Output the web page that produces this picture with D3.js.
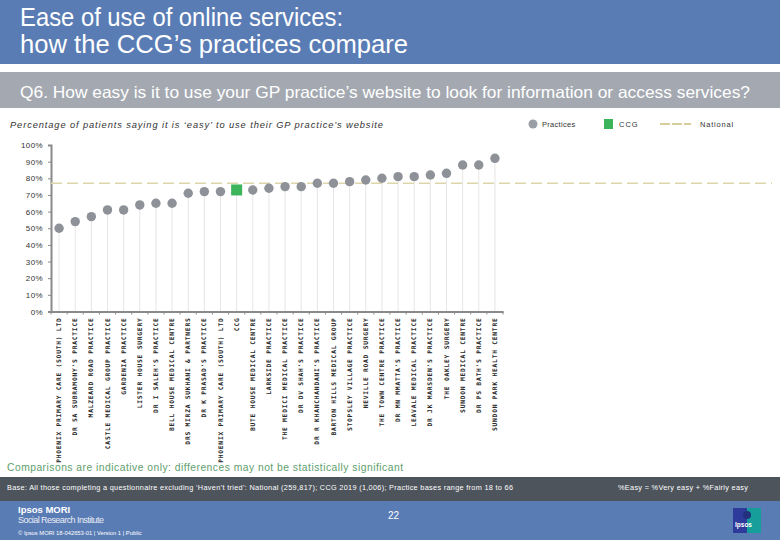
<!DOCTYPE html>
<html><head><meta charset="utf-8">
<script src="https://cdn.jsdelivr.net/npm/d3@7"></script>
<style>body{margin:0;background:#fff}svg{display:block;font-family:"Liberation Sans",Arial,sans-serif}</style>
</head><body><svg id="c" width="780" height="540"></svg>
<script>
const categories = ["PHOENIX PRIMARY CARE (SOUTH) LTD","DR SA SUBRAMONY'S PRACTICE","MALZEARD ROAD PRACTICE","CASTLE MEDICAL GROUP PRACTICE","GARDENIA PRACTICE","LISTER HOUSE SURGERY","DR I SALEH'S PRACTICE","BELL HOUSE MEDICAL CENTRE","DRS MIRZA SUKHANI & PARTNERS","DR K PRASAD'S PRACTICE","PHOENIX PRIMARY CARE (SOUTH) LTD","CCG","BUTE HOUSE MEDICAL CENTRE","LARKSIDE PRACTICE","THE MEDICI MEDICAL PRACTICE","DR DV SHAH'S PRACTICE","DR R KHANCHANDANI'S PRACTICE","BARTON HILLS MEDICAL GROUP","STOPSLEY VILLAGE PRACTICE","NEVILLE ROAD SURGERY","THE TOWN CENTRE PRACTICE","DR MN MMATTA'S PRACTICE","LEAVALE MEDICAL PRACTICE","DR JK MARSDEN'S PRACTICE","THE OAKLEY SURGERY","SUNDON MEDICAL CENTRE","DR PS BATH'S PRACTICE","SUNDON PARK HEALTH CENTRE"];
const values = [50,54,57,61,61,64,65,65,71,72,72,73,73,74,75,75,77,77,78,79,80,81,81,82,83,88,88,92];
const isCCG = categories.map(c => c === "CCG");
const nationalValue = 77;
const yTicks = [0,10,20,30,40,50,60,70,80,90,100];

const svg = d3.select("#c");
const blue = "#5a7cb5";

// header
svg.append("rect").attr("x",0).attr("y",0).attr("width",780).attr("height",64).attr("fill",blue);
svg.append("text").attr("x",20).attr("y",26).attr("fill","#fff").attr("font-size",25.5).attr("textLength",323).attr("lengthAdjust","spacingAndGlyphs").text("Ease of use of online services:");
svg.append("text").attr("x",20).attr("y",53).attr("fill","#fff").attr("font-size",25.5).attr("textLength",388).attr("lengthAdjust","spacingAndGlyphs").text("how the CCG\u2019s practices compare");
svg.append("rect").attr("x",0).attr("y",72).attr("width",780).attr("height",36).attr("fill","#a4a9b1");
svg.append("text").attr("x",20).attr("y",98).attr("fill","#fff").attr("font-size",16.5).attr("textLength",730).attr("lengthAdjust","spacingAndGlyphs").text("Q6. How easy is it to use your GP practice\u2019s website to look for information or access services?");

svg.append("text").attr("x",10).attr("y",128).attr("fill","#333").attr("font-size",9.3).attr("font-style","italic").attr("textLength",373).text("Percentage of patients saying it is \u2018easy\u2019 to use their GP practice\u2019s website");

// legend
const lg = svg.append("g").attr("font-size",7.5).attr("fill","#333");
lg.append("circle").attr("cx",533).attr("cy",124).attr("r",4.5).attr("fill","#9a9ea5");
lg.append("text").attr("x",542).attr("y",127).attr("letter-spacing",0.3).text("Practices");
lg.append("rect").attr("x",604).attr("y",119).attr("width",9).attr("height",10).attr("fill","#3cb45a");
lg.append("text").attr("x",619).attr("y",127).attr("letter-spacing",1).text("CCG");
lg.append("line").attr("x1",660).attr("x2",691).attr("y1",124).attr("y2",124).attr("stroke","#d6cf9c").attr("stroke-width",2).attr("stroke-dasharray","10,2");
lg.append("text").attr("x",700).attr("y",127).attr("letter-spacing",0.8).text("National");

// scales
const x = d3.scaleBand().domain(d3.range(categories.length)).range([51, 503]).paddingInner(0).paddingOuter(0);
const y = d3.scaleLinear().domain([0,100]).range([311.5,145]);

// y axis
const ya = svg.append("g").attr("transform","translate(51,0)")
  .call(d3.axisLeft(y).tickValues(yTicks).tickFormat(d => d + "%").tickSize(3));
ya.select(".domain").attr("stroke","#8a8a8a").attr("stroke-width",2);
ya.selectAll(".tick line").attr("stroke","#8a8a8a");
ya.selectAll(".tick text").attr("font-size",8).attr("fill","#333").attr("font-family","Liberation Sans, Arial").attr("letter-spacing",0.4).attr("x",-8);

// stems
svg.append("g").selectAll("line").data(values).join("line")
  .attr("x1",(d,i)=>x(i)+x.bandwidth()/2).attr("x2",(d,i)=>x(i)+x.bandwidth()/2)
  .attr("y1",d=>y(d)).attr("y2",y(0))
  .attr("stroke","#e6e6e6").attr("stroke-width",1);

// national line
svg.append("line").attr("x1",51).attr("x2",772).attr("y1",y(nationalValue)).attr("y2",y(nationalValue))
  .attr("stroke","#ddd6aa").attr("stroke-width",1.5).attr("stroke-dasharray","11,5");

// x axis
const xa = svg.append("g").attr("transform",`translate(0,${y(0)})`)
  .call(d3.axisBottom(x).tickFormat(i => categories[i]).tickSize(0));
xa.select(".domain").attr("stroke","#8a8a8a").attr("stroke-width",2);
xa.selectAll(".tick text").attr("transform","rotate(-90)").attr("text-anchor","end")
  .attr("x",-6).attr("y",0).attr("dy","0.33em").attr("font-size",6.3).attr("font-weight","bold")
  .attr("letter-spacing",0.75).attr("fill","#2a2a2a").attr("font-family","DejaVu Sans Mono, monospace");
svg.append("g").selectAll("line").data(d3.range(categories.length+1)).join("line")
  .attr("x1",i=>51+i*x.step()).attr("x2",i=>51+i*x.step()).attr("y1",y(0)).attr("y2",y(0)+3)
  .attr("stroke","#8a8a8a");

// points
svg.append("g").selectAll("circle").data(values.map((v,i)=>({v,i})).filter(d=>!isCCG[d.i])).join("circle")
  .attr("cx",d=>x(d.i)+x.bandwidth()/2).attr("cy",d=>y(d.v)).attr("r",4.7).attr("fill","#8e9298");
svg.append("g").selectAll("rect").data(values.map((v,i)=>({v,i})).filter(d=>isCCG[d.i])).join("rect")
  .attr("x",d=>x(d.i)+x.bandwidth()/2-5.5).attr("y",d=>y(d.v)-5.5).attr("width",11).attr("height",11).attr("fill","#3cb45a");

// footer
svg.append("text").attr("x",7).attr("y",471).attr("fill","#5e9e6c").attr("font-size",10.3).attr("textLength",396).text("Comparisons are indicative only: differences may not be statistically significant");
svg.append("rect").attr("x",0).attr("y",477).attr("width",780).attr("height",24).attr("fill","#4d545c");
svg.append("text").attr("x",7).attr("y",490).attr("fill","#fff").attr("font-size",7.3).attr("textLength",506).text("Base: All those completing a questionnaire excluding \u2018Haven\u2019t tried\u2019: National (259,817); CCG 2019 (1,006); Practice bases range from 18 to 66");
svg.append("text").attr("x",618).attr("y",490).attr("fill","#fff").attr("font-size",7.3).attr("textLength",130).text("%Easy = %Very easy + %Fairly easy");
svg.append("rect").attr("x",0).attr("y",501).attr("width",780).attr("height",39).attr("fill",blue);
svg.append("text").attr("x",18).attr("y",513).attr("fill","#fff").attr("font-size",9.5).attr("font-weight","bold").text("Ipsos MORI");
svg.append("text").attr("x",18).attr("y",523).attr("fill","#e8ecf4").attr("font-size",9).attr("textLength",86).text("Social Research Institute");
svg.append("text").attr("x",18).attr("y",535).attr("fill","#fff").attr("font-size",5.8).text("\u00a9 Ipsos MORI      18-042653-01 | Version 1 | Public");
svg.append("text").attr("x",388).attr("y",519).attr("fill","#fff").attr("font-size",10).text("22");
svg.append("rect").attr("x",733).attr("y",508).attr("width",28).attr("height",25).attr("fill","#2f3b9a");
svg.append("rect").attr("x",747).attr("y",508).attr("width",14).attr("height",25).attr("fill","#169f9a");
svg.append("circle").attr("cx",747).attr("cy",515).attr("r",4).attr("fill","#23307e");
svg.append("text").attr("x",735).attr("y",527).attr("fill","#fff").attr("font-size",6.5).attr("font-weight","bold").text("Ipsos");
</script></body></html>
